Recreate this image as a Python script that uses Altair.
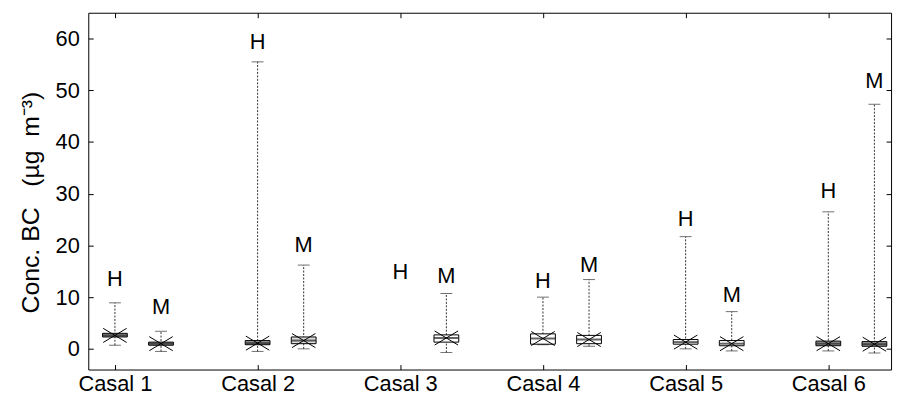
import altair as alt
import pandas as pd

casals = ["Casal 1", "Casal 2", "Casal 3", "Casal 4", "Casal 5", "Casal 6"]
groups = ["H", "M"]
low = [0.7, -0.5, -0.5, 0.0, None, -0.7, 0.8, 0.5, 0.0, -0.4, -0.4, -0.8]
q1 = [2.3, 0.7, 0.8, 1.0, None, 1.3, 0.9, 1.0, 0.9, 0.6, 0.6, 0.5]
med = [2.6, 1.0, 1.1, 1.6, None, 2.1, 2.0, 1.8, 1.3, 1.0, 1.0, 0.9]
q3 = [3.0, 1.3, 1.6, 2.3, None, 2.7, 2.9, 2.6, 1.8, 1.6, 1.5, 1.4]
high = [8.9, 3.4, 55.5, 16.2, None, 10.7, 10.0, 13.4, 21.7, 7.2, 26.5, 47.3]
label_y = [13.5, 8.1, 59.4, 20.0, 14.8, 14.1, 13.1, 16.3, 25.1, 10.4, 30.6, 51.8]
box_fill = ["#9a9a9a", "#9a9a9a", "#9a9a9a", "#dcdcdc", "white", "white",
            "white", "white", "white", "white", "#9a9a9a", "#9a9a9a"]
y_ticks = [0, 10, 20, 30, 40, 50, 60]

M_OFFSET = 0.323
rows = []
for i, c in enumerate(casals):
    for j, g in enumerate(groups):
        k = i * 2 + j
        rows.append(dict(casal=c, grp=g, x=i + 1 + j * M_OFFSET,
                         low=low[k], q1=q1[k], med=med[k], q3=q3[k],
                         high=high[k], label_y=label_y[k], fill=box_fill[k]))
df = pd.DataFrame(rows)

FONT = "Liberation Sans"
FS = 22
NB = "\u00a0"

xscale = alt.Scale(domain=[0.848, 6.405], nice=False, zero=False)
yscale = alt.Scale(domain=[-4, 65], nice=False, zero=False)

base = alt.Chart(df)

x_bottom = alt.X("x:Q", scale=xscale, title=None,
                 axis=alt.Axis(values=[1, 2, 3, 4, 5, 6], orient="bottom",
                               labelExpr="'Casal ' + datum.value",
                               offset=-5, tickSize=5, tickColor="black",
                               domain=False, grid=False, labelPadding=4,
                               labelFont=FONT, labelFontSize=FS, labelColor="black"))
y_left = alt.Y("low:Q", scale=yscale,
               title=f"Conc.{NB}BC{NB}{NB}{NB}(µg{NB}{NB}m⁻³)",
               axis=alt.Axis(values=y_ticks, orient="left", offset=-5, tickSize=5,
                             tickColor="black", domain=False, grid=False,
                             labelPadding=9, labelFont=FONT, labelFontSize=FS,
                             labelColor="black", titleFont=FONT, titleFontSize=25,
                             titleFontWeight="normal", titleColor="black",
                             titlePadding=12, titleY=191))

whisker = base.mark_rule(color="#333333", strokeWidth=1, strokeDash=[2, 1.5]).encode(
    x=x_bottom, y=y_left, y2="high:Q")

cap_top = base.mark_tick(orient="horizontal", size=12, thickness=1, color="#333333").encode(
    x=alt.X("x:Q", scale=xscale, axis=None),
    y=alt.Y("high:Q", scale=yscale, axis=None))
cap_low = base.mark_tick(orient="horizontal", size=12, thickness=1, color="#333333").encode(
    x=alt.X("x:Q", scale=xscale, axis=None),
    y=alt.Y("low:Q", scale=yscale, axis=None))

box = base.mark_bar(size=25, stroke="black", strokeWidth=1).encode(
    x=alt.X("x:Q", scale=xscale, axis=None),
    y=alt.Y("q1:Q", scale=yscale, axis=None), y2="q3:Q",
    fill=alt.Fill("fill:N", scale=None))

median = base.mark_tick(orient="horizontal", size=25, thickness=2, color="#222222").encode(
    x=alt.X("x:Q", scale=xscale, axis=None),
    y=alt.Y("med:Q", scale=yscale, axis=None))

cross = base.mark_point(shape="M-1,-0.6L1,0.6M-1,0.6L1,-0.6", size=560,
                        filled=False, stroke="black", strokeWidth=1, opacity=1).encode(
    x=alt.X("x:Q", scale=xscale, axis=None),
    y=alt.Y("med:Q", scale=yscale, axis=None))

labels = base.mark_text(font=FONT, fontSize=FS, color="black", baseline="middle",
                        align="center").encode(
    x=alt.X("x:Q", scale=xscale, title=None,
            axis=alt.Axis(values=[1, 2, 3, 4, 5, 6], orient="top", offset=-5,
                          tickSize=5, tickColor="black", labels=False,
                          domain=False, grid=False)),
    y=alt.Y("label_y:Q", scale=yscale, title=None,
            axis=alt.Axis(values=y_ticks, orient="right", offset=-5, tickSize=5,
                          tickColor="black", labels=False, domain=False, grid=False)),
    text="grp:N")

chart = alt.layer(whisker, cap_top, cap_low, box, median, cross, labels).resolve_axis(
    x="independent", y="independent"
).properties(
    width=810, height=360,
    background="white",
    autosize=alt.AutoSizeParams(type="none"),
    padding={"left": 81, "top": 3, "right": 6, "bottom": 34},
).configure_view(stroke="black", strokeWidth=1)

chart.save("out.html", embed_options={"renderer": "svg", "actions": False})
